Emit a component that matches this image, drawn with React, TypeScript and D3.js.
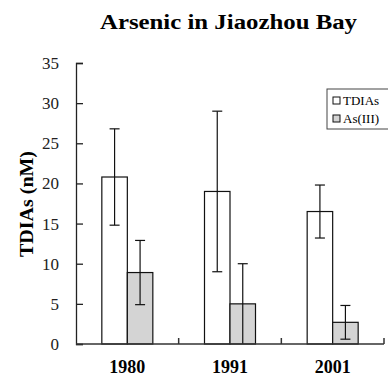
import { useEffect, useRef } from "react";
import * as d3 from "d3";

const years = ["1980", "1991", "2001"];
const tdias = [20.8, 19.0, 16.5];
const tdiasErr = [6.0, 10.0, 3.3];
const as3 = [8.9, 5.0, 2.7];
const as3Err = [4.0, 5.0, 2.1];
const yTicks = [0, 5, 10, 15, 20, 25, 30, 35];
const seriesNames = ["TDIAs", "As(III)"];

export default function App() {
  const ref = useRef<SVGSVGElement>(null);

  useEffect(() => {
    const svg = d3.select(ref.current);
    svg.selectAll("*").remove();

    const font = "Liberation Serif, Times New Roman, serif";
    const colors = ["#ffffff", "#d4d4d4"];

    // scales
    const x = d3.scaleBand().domain(years).range([76, 384]).padding(0);
    const y = d3.scaleLinear().domain([0, 35]).range([344, 63]);
    const barW = 25.5;

    // title (the original is a little stretched sideways)
    svg
      .append("text")
      .attr("x", 228.5)
      .attr("y", 29)
      .attr("text-anchor", "middle")
      .attr("font-family", font)
      .attr("font-weight", "bold")
      .attr("font-size", 20)
      .attr("textLength", 257)
      .attr("lengthAdjust", "spacingAndGlyphs")
      .text("Arsenic in Jiaozhou Bay");

    // y axis label
    svg
      .append("text")
      .attr("transform", "translate(33, 204) rotate(-90)")
      .attr("text-anchor", "middle")
      .attr("font-family", font)
      .attr("font-weight", "bold")
      .attr("font-size", 19)
      .attr("textLength", 106)
      .attr("lengthAdjust", "spacingAndGlyphs")
      .text("TDIAs (nM)");

    // y axis
    const yAxis = svg
      .append("g")
      .attr("transform", "translate(76,0)")
      .attr("font-family", font)
      .call(
        d3
          .axisLeft(y)
          .tickValues(yTicks)
          .tickSize(-7)
          .tickPadding(17)
          .tickFormat(d3.format("d"))
      );
    yAxis.attr("font-family", font).attr("font-size", 17);
    yAxis.select(".domain").attr("stroke", "#222").attr("stroke-width", 1.3);
    yAxis.selectAll(".tick line").attr("stroke", "#222").attr("stroke-width", 1.3);
    yAxis
      .selectAll(".tick text")
      .attr("font-family", font)
      .attr("font-size", 17)
      .attr("fill", "#222");

    // bars
    const series = [
      { vals: tdias, errs: tdiasErr },
      { vals: as3, errs: as3Err },
    ];
    series.forEach((s, si) => {
      const g = svg.append("g");
      years.forEach((yr, i) => {
        const cx = (x(yr) as number) + x.bandwidth() / 2;
        const bx = cx - barW + si * barW;
        g.append("rect")
          .attr("x", bx)
          .attr("y", y(s.vals[i]))
          .attr("width", barW)
          .attr("height", y(0) - y(s.vals[i]))
          .attr("fill", colors[si])
          .attr("stroke", "#111")
          .attr("stroke-width", 1.2);
      });
    });

    // error bars
    series.forEach((s, si) => {
      years.forEach((yr, i) => {
        const cx = (x(yr) as number) + x.bandwidth() / 2 - barW / 2 + si * barW;
        const lo = Math.max(0, s.vals[i] - s.errs[i]);
        const hi = s.vals[i] + s.errs[i];
        const g = svg.append("g").attr("stroke", "#111").attr("stroke-width", 1.2);
        g.append("line").attr("x1", cx).attr("x2", cx).attr("y1", y(lo)).attr("y2", y(hi));
        g.append("line").attr("x1", cx - 5).attr("x2", cx + 5).attr("y1", y(hi)).attr("y2", y(hi));
        if (lo > 0)
          g.append("line").attr("x1", cx - 5).attr("x2", cx + 5).attr("y1", y(lo)).attr("y2", y(lo));
      });
    });

    // x axis
    const xg = svg.append("g").attr("stroke", "#333").attr("stroke-width", 1.5);
    xg.append("line").attr("x1", 76).attr("x2", 384).attr("y1", y(0)).attr("y2", y(0));
    years.forEach((yr) => {
      const xr = (x(yr) as number) + x.bandwidth();
      xg.append("line").attr("x1", xr).attr("x2", xr).attr("y1", y(0)).attr("y2", y(0) - 6);
    });
    svg
      .selectAll(".xlab")
      .data(years)
      .enter()
      .append("text")
      .attr("x", (d) => (x(d) as number) + x.bandwidth() / 2)
      .attr("y", 373)
      .attr("text-anchor", "middle")
      .attr("font-family", font)
      .attr("font-weight", "bold")
      .attr("font-size", 18)
      .text((d) => d);

    // legend
    const lg = svg.append("g");
    lg.append("rect")
      .attr("x", 327)
      .attr("y", 89)
      .attr("width", 70)
      .attr("height", 40)
      .attr("fill", "#fff")
      .attr("stroke", "#444")
      .attr("stroke-width", 1);
    seriesNames.forEach((n, i) => {
      const ly = 101 + i * 18;
      lg.append("rect")
        .attr("x", 333)
        .attr("y", ly - 4)
        .attr("width", 7)
        .attr("height", 7)
        .attr("fill", colors[i])
        .attr("stroke", "#111")
        .attr("stroke-width", 1);
      lg.append("text")
        .attr("x", 343)
        .attr("y", ly + 4)
        .attr("font-family", font)
        .attr("font-size", 13)
        .text(n);
    });
  }, []);

  return (
    <svg
      ref={ref}
      width={388}
      height={377}
      style={{ position: "absolute", left: 0, top: 0, background: "#fff" }}
    />
  );
}
